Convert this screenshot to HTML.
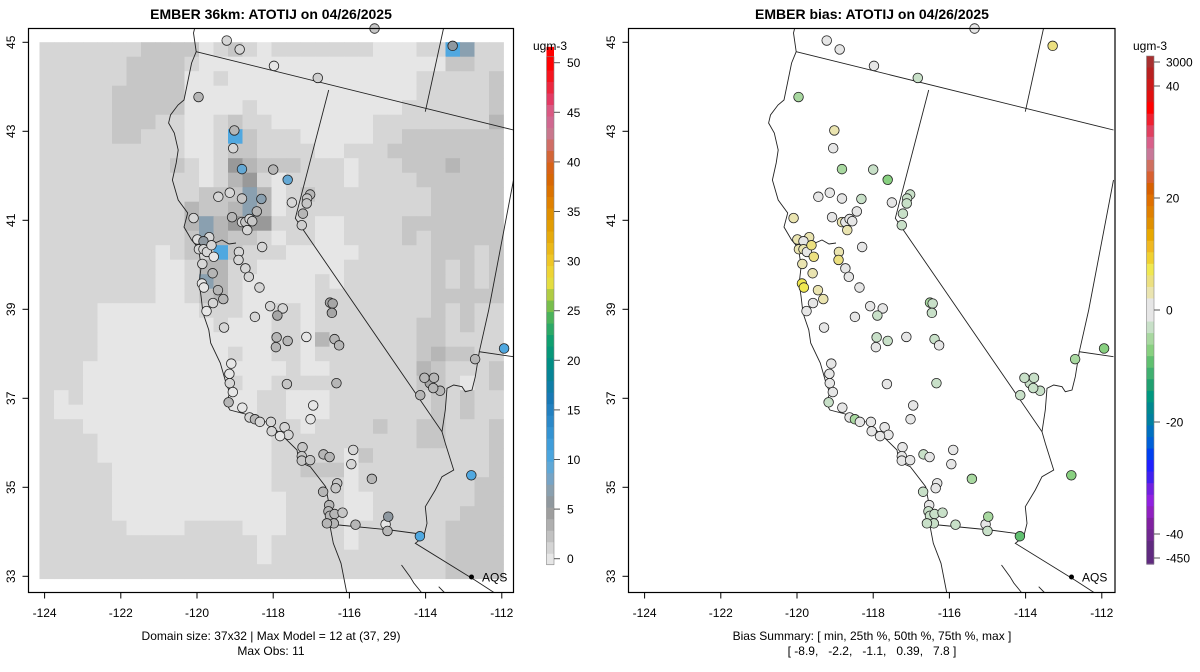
<!DOCTYPE html>
<html><head><meta charset="utf-8"><style>
html,body{margin:0;padding:0;background:#fff;}
svg{display:block;font-family:"Liberation Sans",Arial,sans-serif;}
</style></head><body>
<svg id="svg" width="1200" height="672" viewBox="0 0 1200 672" xmlns="http://www.w3.org/2000/svg">
<g id="gridLayer"></g>
<g id="geoL"></g>
<g id="geoR" transform="translate(600,0)"></g>
<g id="ptsL"></g>
<g id="ptsR"></g>
<g id="axes"></g>
<g id="cbars"></g>
<text x="271" y="19" text-anchor="middle" font-size="14" font-weight="bold">EMBER 36km: ATOTIJ on 04/26/2025</text>
<text x="872" y="19" text-anchor="middle" font-size="14" font-weight="bold">EMBER bias: ATOTIJ on 04/26/2025</text>
<text x="271" y="640" text-anchor="middle" font-size="12">Domain size: 37x32 | Max Model = 12 at (37, 29)</text>
<text x="271" y="655" text-anchor="middle" font-size="12">Max Obs: 11</text>
<text x="872" y="640" text-anchor="middle" font-size="12">Bias Summary: [ min, 25th %, 50th %, 75th %, max ]</text>
<text x="872" y="655" text-anchor="middle" font-size="12" xml:space="preserve">[ -8.9,   -2.2,   -1.1,   0.39,   7.8 ]</text>
</svg>
<script>
// ---- data ----
const gridRows = [
"BBBBBBBCCCCABCBABBBBBBBAAABBGFBB",
"BBBBBBCCCCBAAAAAAAAAAAAAAAAACCBB",
"BBBBBBCCCCAABAAAAAAAAAAAAABBBBBC",
"BBBBBCCCCCAAAAAAAAAAAAAAAABBBBBC",
"BBBBBCCCCCAAAABAAAAAAAAAABBBBBBC",
"BBBBBCCCBBAABCBBAAAAAAABBBBBBBBD",
"BBBBBCCBBBAABGCBBBAAAAABBCCCCCCC",
"BBBBBBBBBBAABCCBBBBAABBBCCCCCCCC",
"BBBBBBBBBCBABEDCCCBBBABBBCCCDCCC",
"BBBBBBBBBBBABDEBABBBBABBBBCCCCCC",
"BBBBBBBBBBBCCCFDABCBBBBBBBBCCCCC",
"BBBBBBBBBBDCCDFDABBBBBBBBBBCCCCC",
"BBBBBBBBBBDFDEEEBBBAABBBBCCCCCCC",
"BBBBBBBBBBCFDCCBABBAABBBBCBCCCCC",
"BBBBBBBBABCBGCBBBAAAAABBBBBCCCBC",
"BBBBBBBBAABDDBBAAAAAABBBBBBCBCBC",
"BBBBBBBBAABFDBAAAAABABBBBBBCBCBC",
"BBBBBBBBAABCDBAAAAABBBBBBBBCCCCC",
"BBBBAAAAAAABBBAABBABBBBBBBBCBCBB",
"BBBBAAAAAAAABAAABBABBBBBBBCCBCBB",
"BBBBAAAAAAAAAAAABBADBBBBBBCCBBBB",
"BBBBAAAAAAAAABAABBABBBBBBBCDCCBB",
"BBBAAAAAAAAAAAAAABAABBBBBBDCBBBC",
"BBBAAAAAAAAAABAABBBBBBBBBBCCBABC",
"BABAAAAAAAAAAAABBAAABBBBBBBCBCBB",
"BAAAAAAAAAAAAAABBAAABBBBBBBCBCBB",
"BBBAAAAAAAAAAAAABBABBBBCBBCCBBBC",
"BBBBAAAAAAAAAAAABBBBBBBBBBCCBBBC",
"BBBBAAAAAAAAAAAABBBBBACBBBBBBBBC",
"BBBBBAAAAAAAAAAABBCCCABBBBBBBBBC",
"BBBBBAAAAAAAAAAABBBBBABBBBBBBBCC",
"BBBBBAAAAAAAAAAAABBBBAABBBBBBBCC",
"BBBBBAAAAAAAAAAAABBBBAABBBBBBCCC",
"BBBBBBAAAABBBBAAABBBBABBBBBBCCCC",
"BBBBBBBBBBBBBBBABBBBBABBBBBBCCCC",
"BBBBBBBBBBBBBBBABBBBBBBBBBBBCCCC",
"BBBBBBBBBBBBBBBBBBBBBBBBBBBBCCCC"
];
const gridLevels = {A:0,B:1,C:2,D:3,E:5,F:7,G:10};
const stLon = [-119.22,-118.88,-117.98,-116.83,-115.34,-113.29,-119.96,-119.02,-119.05,-118.82,-118.00,-117.62,-119.44,-119.14,-118.82,-118.31,-118.43,-119.08,-118.82,-118.73,-118.62,-118.55,-118.68,-120.09,-117.51,-117.03,-117.11,-117.12,-117.22,-117.25,-118.29,-119.99,-119.68,-119.83,-119.95,-119.83,-119.74,-119.62,-119.56,-119.86,-119.59,-118.90,-118.91,-118.73,-118.64,-118.36,-119.87,-119.82,-119.45,-119.31,-119.58,-119.75,-118.08,-117.75,-117.89,-118.48,-119.29,-116.51,-116.44,-116.46,-117.91,-117.93,-117.62,-117.13,-116.39,-116.27,-119.10,-119.15,-119.14,-119.06,-119.17,-118.81,-118.62,-118.48,-118.35,-118.06,-118.04,-117.70,-117.60,-117.82,-117.64,-116.34,-116.95,-117.02,-117.23,-117.25,-117.25,-117.03,-116.68,-116.52,-115.90,-115.95,-115.41,-116.32,-116.36,-116.69,-116.53,-116.55,-116.51,-116.39,-116.18,-116.41,-116.59,-115.84,-115.05,-114.98,-115.00,-114.15,-112.70,-111.94,-112.80,-114.14,-113.62,-113.89,-114.03,-113.78,-113.80];
const stLat = [45.04,44.84,44.47,44.20,45.31,44.92,43.77,43.02,42.62,42.15,42.14,41.91,41.53,41.62,41.49,41.48,41.20,41.07,40.96,40.96,41.03,40.98,40.78,41.05,41.40,41.58,41.49,41.38,41.15,40.89,40.40,40.57,40.62,40.53,40.35,40.35,40.29,40.44,40.18,40.02,39.81,40.29,40.11,39.92,39.73,39.49,39.58,39.49,39.43,39.23,39.14,38.96,39.07,39.02,38.86,38.83,38.59,39.15,39.13,38.92,38.37,38.15,38.29,38.38,38.33,38.19,37.78,37.55,37.34,37.14,36.91,36.79,36.57,36.53,36.47,36.47,36.26,36.35,36.18,36.15,37.32,37.34,36.84,36.53,35.90,35.70,35.60,35.61,35.74,35.68,35.84,35.52,35.19,35.09,34.98,34.90,34.60,34.46,34.36,34.40,34.43,34.19,34.19,34.16,34.17,34.34,34.02,33.90,37.88,38.12,35.27,37.07,37.17,37.34,37.46,37.46,37.23];
const stObs = [1,1,0,1.5,2,6,3,3,1,9,3,9,1,1,2,7,3,3,1,2,1,2,1,1,1,3,2,2,3,1.5,1,0.5,1,6,1,1,1,1,0,1,3,1,1,1,1,1,0,0,3,3,1,0,1,1,4,1,1,4,4,4,3,3,3,0,3,3,0,0,1,0,3,0,1,3,1,1,1,1,1,0,2,3,0,0,2,2,2,2,3,3,1,1,3,2,2,3,3,3,3,3,2,3,3,3,0,6,3,10,3,10,10,3,3,4,3,3,3];
const stBias = [0,0,0,-3,0,6,-4.5,3,0,-4.5,-3,-7.5,0,0,0,-3,0,0,3,0,0,0,3,3,0,-3,-3,-2.5,-3,-3,0,3,3,0,3,3,0,6,6,3,3,3,5,0,0,0,7.5,7.5,3,3,0,0,0,0,-3,0,0,-4.5,-3,-3,-3,0,-3,0,-3,0,0,0,0,0,-3,0,0,-6,0,0,0,0,0,0,0,-3,0,0,0,0,0,0,-3,0,0,0,-4.5,0,0,-3,0,-3,-3,-3,-3,-3,-3,-3,0,-4.5,-3,-8.9,-4.5,-7.5,-7.5,-3,-3,-3,-2.5,-3,-3];
const lonTicks = [-124,-122,-120,-118,-116,-114,-112];
const latTicks = [33,35,37,39,41,43,45];
const obsTickLabels = [0,5,10,15,20,25,30,35,40,45,50];
const biasTickValues = [40,20,0,-20,-40];
const biasEndLabels = ["3000","-450"];

// ---- scales ----
const NS='http://www.w3.org/2000/svg';
function X(lon){return 44.6+(lon+124)*38.1;}
function Y(lat){return 42.3+(45-lat)*44.5;}
function hex(c){return [parseInt(c.substr(1,2),16),parseInt(c.substr(3,2),16),parseInt(c.substr(5,2),16)];}
function lerpStops(stops,v){
  if(v<=stops[0][0])return stops[0][1];
  for(let i=1;i<stops.length;i++){if(v<=stops[i][0]){const a=stops[i-1],b=stops[i];const t=(v-a[0])/(b[0]-a[0]);const ca=hex(a[1]),cb=hex(b[1]);return 'rgb('+ca.map((x,k)=>Math.round(x+(cb[k]-x)*t)).join(',')+')';}}
  return stops[stops.length-1][1];
}
const obsStops=[[0,'#e6e6e6'],[1,'#d6d6d6'],[2,'#c6c6c6'],[3,'#b6b6b6'],[4,'#a6a6a6'],[5,'#999999'],[6,'#8e98a0'],[7,'#8aa0b0'],[8,'#78a4c4'],[9,'#64a8d4'],[10,'#50a8e0'],[12,'#3a9ad8'],[14,'#2a88c8'],[16,'#1a78b8'],[18,'#0a80a0'],[20,'#009080'],[22,'#10a070'],[24,'#40b060'],[25,'#60b850'],[26,'#90c448'],[27,'#c0d040'],[28,'#ece040'],[30,'#f0c828'],[32,'#e8b010'],[34,'#e09800'],[36,'#e08000'],[38,'#d86800'],[40,'#d86020'],[41,'#d06848'],[42,'#d07070'],[43,'#c87890'],[44,'#d06890'],[45,'#d86088'],[46,'#e04070'],[47,'#e83050'],[48,'#f02030'],[50,'#ff0000']];
const biasBlocks=['#a83030','#b82020','#cc1a1a','#e01010','#ff0000','#f02030','#e04060','#d8608a','#c87898','#d07060','#d86030','#d86000','#e07000','#e08000','#e09000','#e8a800','#f0b820','#f0d030','#f0e850','#ece080','#eae4b0','#e6e6e6','#e6e6e6','#c8e0c8','#a8d8a0','#88d080','#60c070','#40b070','#20a070','#009880','#008890','#0080a0','#0070c0','#0060d8','#0040f0','#2020ff','#4020f0','#7020e0','#9020e0','#9020c0','#8020a0','#702890','#602a80','#602a80'];
const CB_TOP=56, CB_BOT=564;
function biasY(v){return 310-v*5.6;}
function biasColor(v){const i=Math.floor((biasY(v)-CB_TOP)/((CB_BOT-CB_TOP)/biasBlocks.length));return biasBlocks[Math.max(0,Math.min(biasBlocks.length-1,i))];}
function obsY(v){return 558.7-v*9.92;}

function mk(tag,attrs,parent){const e=document.createElementNS(NS,tag);for(const k in attrs)e.setAttribute(k,attrs[k]);parent.appendChild(e);return e;}

// ---- frames ----
const axes=document.getElementById('axes');
[[28.5,513.5],[628.5,1115]].forEach((b,pi)=>{
  const r=mk('rect',{x:b[0],y:28.5,width:b[1]-b[0],height:564,fill:'none',stroke:'#000','stroke-width':1.2},axes);
  
  
});

// ---- grid ----
const gl=document.getElementById('gridLayer');
gridRows.forEach((row,r)=>{
  for(let c=0;c<row.length;c++){
    const v=gridLevels[row[c]];
    const cell=mk('rect',{x:39.5+c*14.5,y:42.2+r*14.5,width:14.9,height:14.9,fill:lerpStops(obsStops,v)},gl);
    
    
  }
});

// ---- basemap ----
const geo=[
"M194.6,28.5 L193.5,33 L196.2,51.7 L191.6,63 L184,100 L178,105 L170.5,115 L168.6,123 L174.3,133 L178.2,150 L176.2,163 L172.4,180 L178.2,200 L187.7,213 L184,227 L191.6,240 L197.3,246.7 L199.2,253 L201.1,266.7 L199.2,283 L201.1,296.7 L203,313 L208.8,330 L210.7,343 L220.3,363 L226,383 L229.9,393 L226,403 L229.9,410 L249,415 L268.2,423 L283.5,436.7 L297,450 L298.9,461.7 L310.3,466.7 L325.7,486.7 L329.5,506.7 L329.5,523.3 L333.3,543.3 L341,563.3 L346.7,592.5",
"M197.3,246.7 L206,244 L215,243 L222,240 L229,244 L236,243",
"M196.2,51.7 L513.5,130",
"M443.5,28.5 L425.3,111.7",
"M328.7,90 L295.3,218.3 L442,431.7",
"M513.5,180 L488.7,310 L479.3,351.7 L513.5,356.7",
"M479.3,351.7 L475.3,376.7 L472,390 L465.3,391.7 L462,386.7 L453.7,385 L447,388.3 L445.3,410 L442,431.7 L445.3,443.3 L453.7,470 L442,476.7 L435.3,490 L425.3,506.7 L427,523.3 L423.7,536.7 L415.3,543.3 L474.7,580 L494,592.5",
"M329.5,523.5 L338.7,525 L390.3,530 L420.3,534",
"M401.5,565 L410,576.7 L413.8,583 L421.5,592.5",
"M438.7,586.7 L444.4,592.5"
];
['geoL','geoR'].forEach(id=>{
  const g=document.getElementById(id);
  geo.forEach((d,i)=>{
    const p=mk('path',{d:d,fill:'none',stroke:'#222','stroke-width':0.9},g);
    
    
  });
  const dot=mk('circle',{cx:471.5,cy:577,r:2.5,fill:'#000'},g);
  
  
  const t=mk('text',{x:482,y:581.5,'font-size':12},g);t.textContent='AQS';
  
  
});

// ---- points ----
const pL=document.getElementById('ptsL'),pR=document.getElementById('ptsR');
for(let i=0;i<stLon.length;i++){
  const a=mk('circle',{cx:X(stLon[i]),cy:Y(stLat[i]),r:4.8,fill:lerpStops(obsStops,stObs[i]),stroke:'#222','stroke-width':0.8},pL);
  
  
  const b=mk('circle',{cx:X(stLon[i])+600,cy:Y(stLat[i]),r:4.8,fill:biasColor(stBias[i]),stroke:'#222','stroke-width':0.8},pR);
  
  
}

// ---- axis ticks ----
[0,600].forEach(off=>{
  lonTicks.forEach(l=>{
    const x=X(l)+off;
    const tk=mk('line',{x1:x,x2:x,y1:592.5,y2:598.5,stroke:'#000'},axes);
    
    
    const t=mk('text',{x:x,y:617,'text-anchor':'middle','font-size':12},axes);t.textContent=l;
    
    
  });
  latTicks.forEach(l=>{
    const y=Y(l);
    const tk=mk('line',{x1:22.5+off,x2:28.5+off,y1:y,y2:y,stroke:'#000'},axes);
    
    
    const t=mk('text',{transform:'translate('+(15+off)+','+y+') rotate(-90)','text-anchor':'middle','font-size':12},axes);t.textContent=l;
    
    
  });
});

// ---- colorbars ----
const cb=document.getElementById('cbars');
for(let v=-0.6;v<50.6;v+=1.16){
  const y1=obsY(v+1.16),y2=obsY(v);
  const r=mk('rect',{x:546.5,y:y1,width:7.5,height:y2-y1+0.6,fill:lerpStops(obsStops,v+0.58)},cb);
  
  
}
const f1=mk('rect',{x:546.5,y:obsY(50.6),width:7.5,height:obsY(-0.6)-obsY(50.6),fill:'none',stroke:'#888','stroke-width':0.6},cb);


obsTickLabels.forEach(v=>{
  const y=obsY(v);
  const tk=mk('line',{x1:554,x2:560,y1:y,y2:y,stroke:'#555'},cb);
  
  
  const t=mk('text',{x:567,y:y+4.5,'font-size':12},cb);t.textContent=v;
  
  
});
const bh=(CB_BOT-CB_TOP)/biasBlocks.length;
biasBlocks.forEach((c,i)=>{
  const r=mk('rect',{x:1146.5,y:CB_TOP+i*bh,width:7.5,height:bh+0.6,fill:c},cb);
  
  
});
const f2=mk('rect',{x:1146.5,y:CB_TOP,width:7.5,height:CB_BOT-CB_TOP,fill:'none',stroke:'#888','stroke-width':0.6},cb);


const biasTickYs=biasTickValues.map(biasY);
const biasAll=[[biasEndLabels[0],62]].concat(biasTickValues.map((v,i)=>[String(v),biasTickYs[i]])).concat([[biasEndLabels[1],558]]);
biasAll.forEach(p=>{
  const tk=mk('line',{x1:1154,x2:1160,y1:p[1],y2:p[1],stroke:'#555'},cb);
  
  
  const t=mk('text',{x:1166,y:p[1]+4.5,'font-size':12},cb);t.textContent=p[0];
  
  
});
[550,1150].forEach((x,i)=>{
  const t=mk('text',{x:x,y:50,'text-anchor':'middle','font-size':12},cb);t.textContent='ugm-3';
  
  
});
</script>
</body></html>
